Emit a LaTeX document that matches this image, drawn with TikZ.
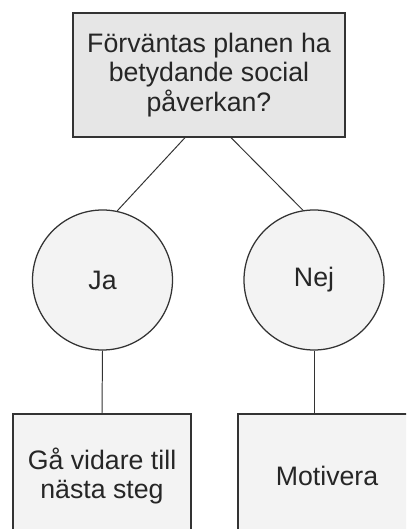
\documentclass[tikz,border=0pt]{standalone}
\usepackage{fontspec}
\setmainfont{Liberation Sans}
\usetikzlibrary{calc}
\definecolor{qfill}{HTML}{E6E6E6}
\definecolor{afill}{HTML}{F3F3F3}
\definecolor{edge}{HTML}{333333}

\begin{document}
\begin{tikzpicture}[
    every node/.style={font=\fontsize{19}{21}\selectfont, text=black!85, align=center},
    question/.style={draw=edge, fill=qfill, line width=0.9pt, minimum width=6.8cm, minimum height=3.1cm},
    answer/.style={circle, draw=edge, fill=afill, line width=0.9pt, minimum size=3.5cm},
    outcome/.style={draw=edge, fill=afill, line width=0.9pt, minimum width=4.45cm, minimum height=3.1cm},
    link/.style={draw=edge, line width=0.7pt}]
  \useasboundingbox (0,0) rectangle (10.15,13.225);
  \clip (0,0) rectangle (10.15,13.225);
  \node[question] (q1)   at (5.225,11.35) {Förväntas planen ha\\betydande social\\påverkan?};
  \node[answer]   (ja)   at (2.5625,6.225) {Ja};
  \node[answer]   (nej)  at (7.85,6.225)   {Nej};
  \node[outcome]  (gov)  at (2.55,1.325)   {Gå vidare till\\nästa steg};
  \node[outcome]  (mot)  at (8.175,1.325)  {Motivera};
  \draw[link] ($(q1.south)+(-0.6,0)$)  -- (ja.78);
  \draw[link] ($(q1.south)+(0.55,0)$)  -- (nej.99);
  \draw[link] (ja.south)  -- (gov.north);
  \draw[link] (nej.south) -- (nej.south |- mot.north);
\end{tikzpicture}
\end{document}
